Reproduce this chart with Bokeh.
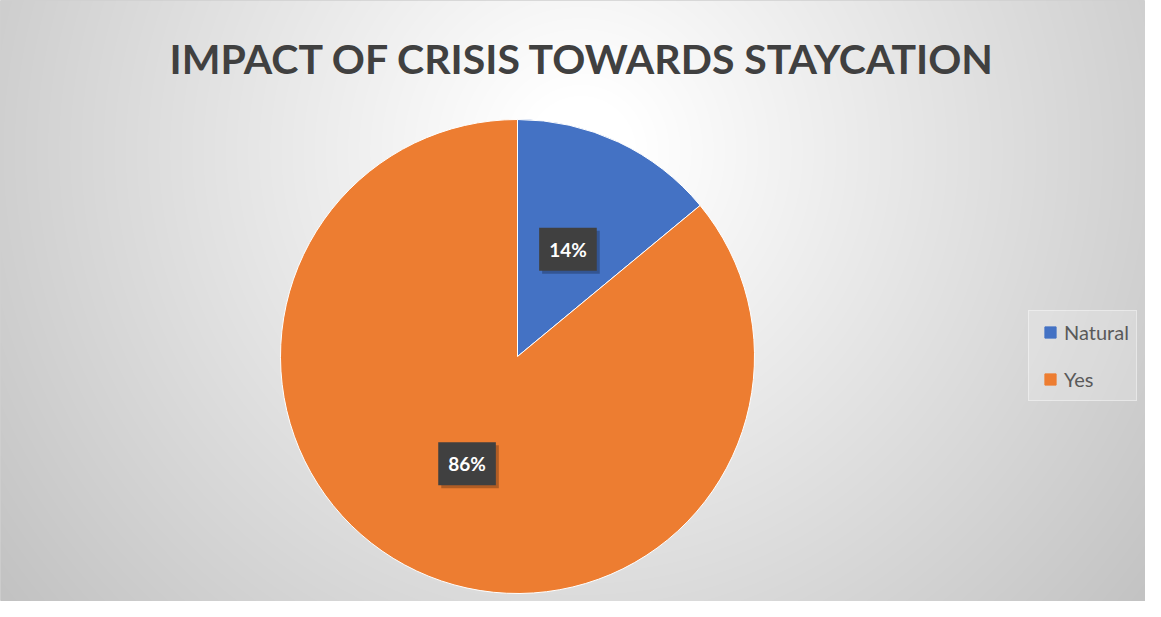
import numpy as np
from bokeh.plotting import figure
from bokeh.models import Range1d, ColumnDataSource, Label, Legend, LegendItem
from bokeh.core.properties import value
from bokeh.embed import file_html
from bokeh.resources import INLINE

# ---- data ----
title_text = "IMPACT OF CRISIS TOWARDS STAYCATION"
categories = ["Natural", "Yes"]
values = [14, 86]
colors = ["#4472C4", "#ED7D31"]

W, H = 1145, 601
p = figure(width=W, height=H, output_backend="svg", toolbar_location=None,
           x_range=Range1d(0, W), y_range=Range1d(0, H), min_border=0,
           outline_line_color="#d0d0d0")
p.axis.visible = False
p.grid.visible = False
p.background_fill_color = "#ffffff"
p.border_fill_color = "#ffffff"

# background radial gradient (chart-area decoration)
ys, xs = np.mgrid[0:H, 0:W]
page_x = xs.astype(float)
page_y = (H - 1 - ys).astype(float)
d = np.sqrt((page_x - 580.0) ** 2 + (page_y - 150.0) ** 2)
g = np.clip(260 - 0.09 * d, 0, 255).astype(np.uint32)
img = (np.uint32(255) << 24) | (g << 16) | (g << 8) | g
p.image_rgba(image=[img.astype(np.uint32)], x=0, y=0, dw=W, dh=H)

# pie
vals = np.array(values, dtype=float)
frac = vals / vals.sum()
cum = np.concatenate([[0], np.cumsum(frac)])
start = np.pi / 2 - 2 * np.pi * cum[:-1]
end = np.pi / 2 - 2 * np.pi * cum[1:]
mid = (start + end) / 2
cx, cy, r = 517, 245, 237
src = ColumnDataSource(dict(cat=categories, start=start, end=end, color=colors,
                            lx=cx + 0.5 * r * np.cos(mid), ly=cy + 0.5 * r * np.sin(mid),
                            lab=[f"{v:.0f}%" for v in vals * 100 / vals.sum()]))
p.wedge(x=cx, y=cy, radius=r, start_angle="start", end_angle="end", direction="clock",
        fill_color="color", line_color="white", line_width=1, source=src)

# labels with dark boxes (soft shadow first)
p.text(x="lx", y="ly", text="lab", source=src, text_align="center", text_baseline="middle",
       text_color="black", text_alpha=0, text_font=value("Lato"), text_font_style="bold",
       text_font_size="19px", background_fill_color="black", background_fill_alpha=0.25,
       padding=10, x_offset=3, y_offset=3)
p.text(x="lx", y="ly", text="lab", source=src, text_align="center", text_baseline="middle",
       text_color="white", text_font=value("Lato"), text_font_style="bold", text_font_size="19px",
       background_fill_color="#404040", padding=10)

# title
p.add_layout(Label(x=582.5, y=543, text=title_text, text_align="center", text_baseline="middle",
                   text_font="Lato", text_font_style="bold", text_font_size="41px",
                   text_color="#404040"))

# legend
items = []
for c, col in zip(categories, colors):
    rr = p.scatter(x=[np.nan], y=[np.nan], marker="square", size=11, fill_color=col, line_color=col)
    items.append(LegendItem(label=c, renderers=[rr]))
leg = Legend(items=items, location=(1028, 200), glyph_width=28, glyph_height=28, label_height=28,
             spacing=19, padding=7, margin=0, label_standoff=0,
             label_text_font="Lato", label_text_font_size="20px", label_text_color="#595959",
             background_fill_color="white", background_fill_alpha=0.2,
             border_line_color="white", border_line_alpha=0.4)
p.add_layout(leg, "center")

open("out.html", "w").write(file_html(p, INLINE))
